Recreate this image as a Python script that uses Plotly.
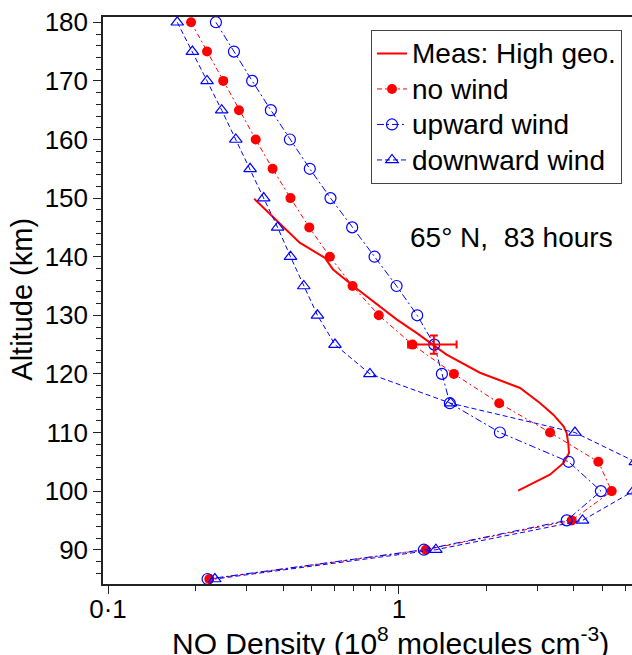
import plotly.graph_objects as go

# ---- data ----
altitude = [180, 175, 170, 165, 160, 155, 150, 145, 140, 135, 130, 125,
            120, 115, 110, 105, 100, 95, 90, 85]
no_wind = [0.193, 0.219, 0.249, 0.282, 0.322, 0.368, 0.424, 0.492, 0.579, 0.693,
           0.853, 1.114, 1.546, 2.213, 3.31, 4.85, 5.39, 3.93, 1.238, 0.223]
upward_wind = [0.235, 0.271, 0.313, 0.363, 0.422, 0.494, 0.582, 0.691, 0.825, 0.982,
               1.156, 1.323, 1.406, 1.497, 2.225, 3.835, 4.95, 3.776, 1.219, 0.220]
downward_wind = [0.173, 0.195, 0.219, 0.246, 0.275, 0.308, 0.343, 0.383, 0.424, 0.471,
                 0.525, 0.603, 0.795, 1.506, 4.03, 6.5, 6.4, 4.28, 1.34, 0.233]

meas_density = [0.318, 0.456, 0.557, 0.594, 0.697, 0.860, 0.982, 1.15, 1.459, 1.90,
                2.168, 2.61, 3.055, 3.396, 3.684, 3.776, 3.823, 3.845, 3.684, 3.305, 2.57]
meas_altitude = [149.9, 142.4, 139.8, 137.8, 135.0, 131.5, 129.3, 127.0, 123.3, 120.2,
                 119.1, 117.6, 115.05, 113.05, 111.05, 109.9, 108.2, 106.5, 104.8, 102.8, 100.1]

err_density = [1.319]
err_altitude = [125]
err_x_plus = [0.26]
err_x_minus = [0.243]
err_y = [1.55]

x_tickvals = [0.1, 1, 10]
x_ticktext = ["0·1", "1", "10"]
x_minor = [0.2, 0.3, 0.4, 0.5, 0.6, 0.7, 0.8, 0.9, 2, 3, 4, 5, 6, 7, 8, 9]

series_names = ["Meas: High geo.", "no wind", "upward wind", "downward wind"]

FONT = "Liberation Sans, Arial, sans-serif"
RED = "#ff0000"
BLUE = "#0000ff"


def big(t):
    return '<span style="font-size:28px">' + t + "</span>"


fig = go.Figure()
fig.add_trace(go.Scatter(
    x=meas_density, y=meas_altitude, mode="lines", name=big(series_names[0]),
    line=dict(color=RED, width=2)))
fig.add_trace(go.Scatter(
    x=no_wind, y=altitude, mode="lines+markers", name=big(series_names[1]),
    line=dict(color=RED, width=1, dash="5px,3px,2px,3px"),
    marker=dict(symbol="circle", size=10, color=RED)))
fig.add_trace(go.Scatter(
    x=upward_wind, y=altitude, mode="lines+markers", name=big(series_names[2]),
    line=dict(color=BLUE, width=1, dash="7px,3px,2px,3px"),
    marker=dict(symbol="circle-open", size=11, color=BLUE, line=dict(width=1.2))))
fig.add_trace(go.Scatter(
    x=downward_wind, y=altitude, mode="lines+markers", name=big(series_names[3]),
    line=dict(color=BLUE, width=1, dash="5px,3px"),
    marker=dict(symbol="triangle-up-open", size=11, color=BLUE, line=dict(width=1.2))))
fig.add_trace(go.Scatter(
    x=err_density, y=err_altitude, mode="markers", showlegend=False,
    marker=dict(size=1, color=RED),
    error_x=dict(type="data", symmetric=False, array=err_x_plus, arrayminus=err_x_minus,
                 color=RED, thickness=2, width=4),
    error_y=dict(type="data", array=err_y, color=RED, thickness=2, width=4)))

fig.update_layout(
    width=632, height=655,
    margin=dict(l=103, r=0, t=17, b=71),
    paper_bgcolor="white", plot_bgcolor="white",
    font=dict(family=FONT, size=26, color="black"),
    showlegend=True,
    legend=dict(x=0.5066, y=0.9776, xanchor="left", yanchor="top",
                bgcolor="white", bordercolor="#444", borderwidth=1,
                font=dict(family=FONT, size=25)),
    xaxis=dict(type="log", range=[-1.0172, 0.8015],
               tickmode="array", tickvals=x_tickvals, ticktext=x_ticktext,
               ticks="outside", ticklen=8, tickwidth=1, tickcolor="#222",
               showline=True, linecolor="#222", linewidth=1.5, mirror=True,
               showgrid=False, zeroline=False,
               tickfont=dict(size=26), ticklabelstandoff=-7,
               minor=dict(tickmode="array", tickvals=x_minor, ticks="outside",
                          ticklen=5, tickcolor="#222", showgrid=False)),
    yaxis=dict(range=[84.15, 180.9], tickmode="linear", tick0=90, dtick=10,
               ticks="outside", ticklen=8, tickwidth=1, tickcolor="#222",
               showline=True, linecolor="#222", linewidth=1.5,
               showgrid=False, zeroline=False,
               tickfont=dict(size=26),
               minor=dict(tick0=80, dtick=2, ticks="outside", ticklen=5,
                          tickcolor="#222", showgrid=False)),
    annotations=[
        dict(text="65° N,\u00a0 83 hours", xref="paper", yref="paper",
             x=0.5766, y=0.6108, xanchor="left", yanchor="middle",
             showarrow=False, font=dict(family=FONT, size=28, color="black")),
        dict(text="NO Density (10<sup>8</sup> molecules cm<sup>-3</sup>)",
             xref="paper", yref="paper", x=0.5444, y=-0.1,
             xanchor="center", yanchor="middle", showarrow=False,
             font=dict(family=FONT, size=30, color="black")),
        dict(text="Altitude (km)", xref="paper", yref="paper", x=-0.1531, y=0.5014,
             xanchor="center", yanchor="middle", textangle=-90, showarrow=False,
             font=dict(family=FONT, size=29, color="black")),
    ],
)

fig.write_html("out.html")
